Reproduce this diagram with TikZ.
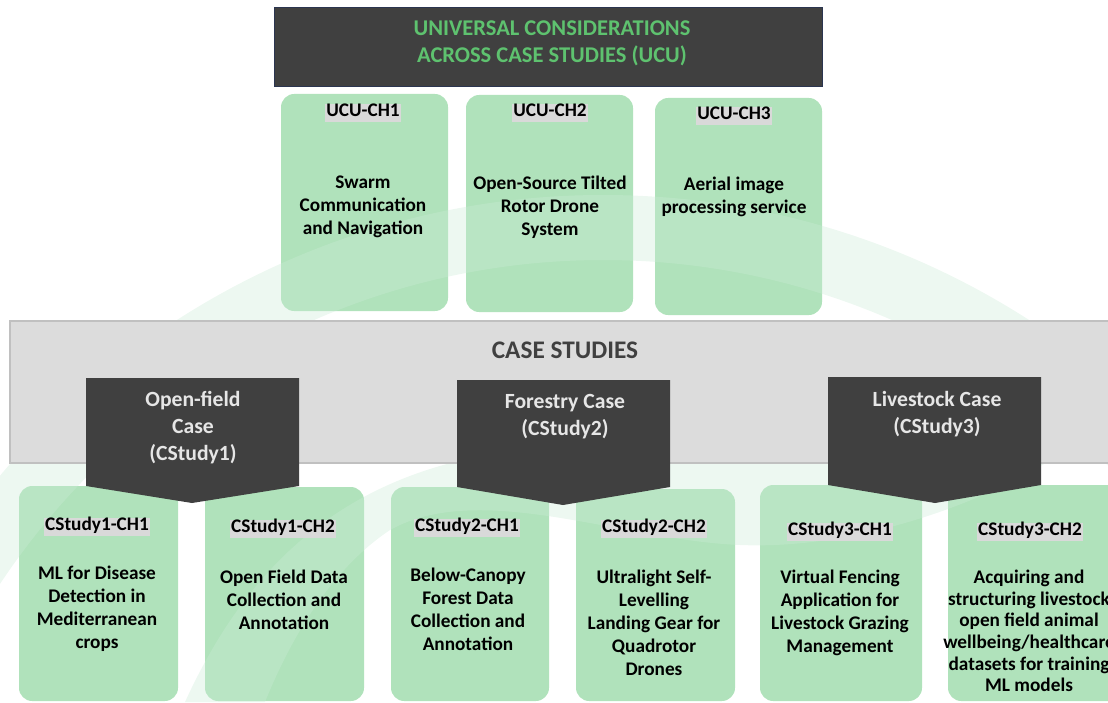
\documentclass[tikz,border=0pt]{standalone}
\usepackage{fontspec}
\setmainfont{Carlito}

\definecolor{darkbox}{HTML}{404040}
\definecolor{titleline}{HTML}{2B3550}
\definecolor{ucugreen}{HTML}{5EC26F}
\definecolor{chgreen}{HTML}{B0E2BB}
\definecolor{taggrey}{HTML}{D9D9D9}
\definecolor{bandgrey}{HTML}{DCDCDC}
\definecolor{bandline}{HTML}{C0C0C0}
\definecolor{casetext}{HTML}{E6E6E6}
\definecolor{wmgreen}{HTML}{CCEBD7}

\tikzset{
  chbox/.style={fill=chgreen,rounded corners=3.3mm},
  chtag/.style={fill=taggrey,inner xsep=1pt,inner ysep=1.5pt,text height=0.72em,text depth=0.2em,font=\fontsize{13.7}{16.4}\selectfont\bfseries},
  chtext/.style={align=center,inner sep=0pt,font=\fontsize{13.7}{16.4}\selectfont\bfseries},
  casebox/.style={fill=darkbox},
  casetitle/.style={align=center,inner sep=0pt,text=casetext,font=\fontsize{15.4}{19.2}\selectfont\bfseries},
  wmark/.style={fill=wmgreen,opacity=0.35,even odd rule},
}

\begin{document}
\begin{tikzpicture}[x=0.025cm,y=-0.025cm]
\useasboundingbox (0,0) rectangle (1108,702);
\clip (0,0) rectangle (1108,702);

% title bar
\draw[fill=darkbox,draw=titleline,line width=0.6pt] (274,7) rectangle (822,86);
\node[align=center,inner sep=0pt,text=ucugreen,font=\fontsize{16}{19.2}\selectfont\bfseries] (ucu) at (552,43) {UNIVERSAL CONSIDERATIONS\\ACROSS CASE STUDIES (UCU)};

% universal challenge boxes
\path[chbox] (281,94) rectangle (448,311);
\path[chbox] (466,95) rectangle (633,312);
\path[chbox] (655,98) rectangle (822,315);

% case study challenge boxes (bottom row)
\path[chbox] (19,486) rectangle (178,701);
\path[chbox] (205,487) rectangle (364,701);
\path[chbox] (391,487) rectangle (549,701);
\path[chbox] (576,489) rectangle (735,701);
\path[chbox] (760,485) rectangle (922,701);
\path[chbox] (948,485) rectangle (1125,701);

% faint logo in the background: big arc and the swoosh under it
\fill[wmark] (603,983) circle[radius=788] (603,983) circle[radius=723];
\fill[wmark] (185,702) .. controls (250,560) and (350,470) .. (520,450) -- (1080,440)
  .. controls (1000,500) and (860,550) .. (740,545)
  .. controls (620,540) and (480,480) .. (390,530)
  .. controls (330,570) and (290,640) .. (265,702) -- cycle;

\node[chtag] (ucu1tag) at (363,113) {UCU-CH1};
\node[chtext] (ucu1) at (363,207) {Swarm\\Communication\\and Navigation};
\node[chtag] (ucu2tag) at (550,113) {UCU-CH2};
\node[chtext] (ucu2) at (550,207) {Open-Source Tilted\\Rotor Drone\\System};
\node[chtag] (ucu3tag) at (734,116) {UCU-CH3};
\node[chtext] (ucu3) at (734,197) {Aerial image\\processing service};

% case studies band
\draw[fill=bandgrey,draw=bandline,line width=0.8pt] (10,321) rectangle (1125,463);
\node[inner sep=0pt,text=darkbox,font=\fontsize{18}{21.6}\selectfont\bfseries] (cases) at (565,350) {CASE STUDIES};

% pentagon headers
\fill[casebox] (86,378) -- (299,378) -- (299,486) -- (192,503) -- (86,486) -- cycle; %left
\node[casetitle] (cs1) at (193,428) {Open-field\\Case\\(CStudy1)};
\fill[casebox] (457,380) -- (670,380) -- (670,487) -- (563,505) -- (457,487) -- cycle; %middle
\node[casetitle] (cs2) at (565,417) {Forestry Case\\(CStudy2)};
\fill[casebox] (828,377) -- (1041,377) -- (1041,485) -- (935,503) -- (828,485) -- cycle; %right
\node[casetitle] (cs3) at (937,414) {Livestock Case\\(CStudy3)};

% challenge labels
\node[chtag] (c1h1tag) at (97,527) {CStudy1-CH1};
\node[chtext] (c1h1) at (97,609) {ML for Disease\\Detection in\\Mediterranean\\crops};
\node[chtag] (c1h2tag) at (283,529) {CStudy1-CH2};
\node[chtext] (c1h2) at (284,600) {Open Field Data\\Collection and\\Annotation};
\node[chtag] (c2h1tag) at (467,528) {CStudy2-CH1};
\node[chtext] (c2h1) at (468,609) {Below-Canopy\\Forest Data\\Collection and\\Annotation};
\node[chtag] (c2h2tag) at (654,529) {CStudy2-CH2};
\node[chtext] (c2h2) at (654,623) {Ultralight Self-\\Levelling\\Landing Gear for\\Quadrotor\\Drones};
\node[chtag] (c3h1tag) at (840,532) {CStudy3-CH1};
\node[chtext] (c3h1) at (840,613) {Virtual Fencing\\Application for\\Livestock Grazing\\Management};
\node[chtag] (c3h2tag) at (1030,532) {CStudy3-CH2};
\node[chtext,font=\fontsize{13.7}{15.4}\selectfont\bfseries] (c3h2) at (1029,631) {Acquiring and\\structuring livestock\\open field animal\\wellbeing/healthcare\\datasets for training\\ML models};

\end{tikzpicture}
\end{document}
